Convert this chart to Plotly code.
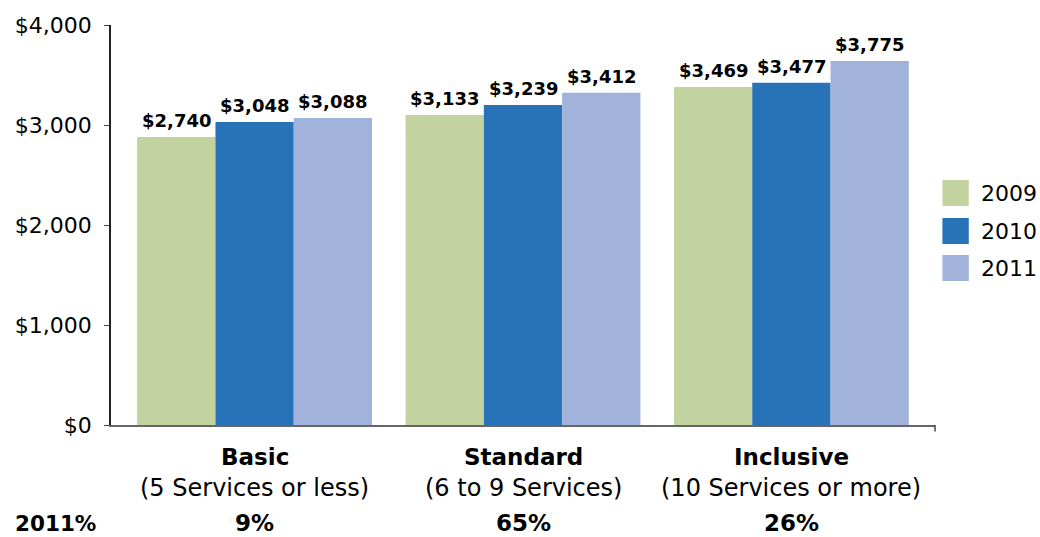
import plotly.graph_objects as go

# categories and values
tiers = ['Basic', 'Standard', 'Inclusive']
tier_notes = ['(5 Services or less)', '(6 to 9 Services)', '(10 Services or more)']
share_2011 = ['9%', '65%', '26%']
years = ['2009', '2010', '2011']

# drawn bar heights (as they appear against the axis)
heights_2009 = [2880, 3100, 3380]
heights_2010 = [3030, 3200, 3423]
heights_2011 = [3070, 3323, 3640]

# printed value labels
labels_2009 = ['$2,740', '$3,133', '$3,469']
labels_2010 = ['$3,048', '$3,239', '$3,477']
labels_2011 = ['$3,088', '$3,412', '$3,775']

colors = ['#C3D3A0', '#2873B8', '#A1B3DA']
FONT = 'DejaVu Sans'
BARGAP = 0.125

series = [
    (heights_2009, labels_2009),
    (heights_2010, labels_2010),
    (heights_2011, labels_2011),
]

fig = go.Figure()
annotations = []
bar_w = (1 - BARGAP) / len(series)
for j, (year, (h, lab), col) in enumerate(zip(years, series, colors)):
    fig.add_trace(go.Bar(
        x=tiers, y=h, name=year, marker=dict(color=col, line=dict(width=0)),
        showlegend=False, hoverinfo='x+y+name',
    ))
    # value labels sit a little above each bar
    off = (j - (len(series) - 1) / 2) * bar_w
    for i, (v, s) in enumerate(zip(h, lab)):
        annotations.append(dict(
            x=i + off, xref='x', y=v, yref='y', yanchor='bottom', yshift=4,
            text='<b>' + s + '</b>', showarrow=False,
            font=dict(family=FONT, size=18, color='black'),
        ))

# category captions under the axis
for t, note, s in zip(tiers, tier_notes, share_2011):
    for txt, dy, size in [('<b>' + t + '</b>', -32, 23),
                          (note, -63, 24),
                          ('<b>' + s + '</b>', -98, 23)]:
        annotations.append(dict(
            x=t, xref='x', y=0, yref='paper', yanchor='middle', yshift=dy,
            text=txt, showarrow=False,
            font=dict(family=FONT, size=size, color='black'),
        ))
annotations.append(dict(
    x=-0.119, xref='paper', y=0, yref='paper', yanchor='middle', yshift=-98,
    xanchor='left', text='<b>2011%</b>', showarrow=False,
    font=dict(family=FONT, size=21.5, color='black'),
))

# legend drawn by hand so the keys can be as large as in the original
shapes = []
row_y = [0.58, 0.485, 0.3925]
for year, col, yy in zip(years, colors, row_y):
    shapes.append(dict(type='rect', xref='paper', yref='paper',
                       x0=1.009, x1=1.041, y0=yy - 0.0325, y1=yy + 0.0325,
                       fillcolor=col, line=dict(width=0)))
    annotations.append(dict(x=1.054, xref='paper', y=yy, yref='paper',
                            xanchor='left', yanchor='middle', text=year,
                            showarrow=False,
                            font=dict(family=FONT, size=22, color='black')))

# small closing tick at the right end of the category axis
shapes.append(dict(type='line', xref='paper', yref='paper', x0=1, x1=1,
                   y0=0, y1=-0.016, line=dict(color='#444444', width=1.5)))

fig.update_layout(
    width=1040, height=537,
    margin=dict(l=111, r=105, t=25, b=112),
    paper_bgcolor='white', plot_bgcolor='white',
    barmode='group', bargap=BARGAP, bargroupgap=0,
    font=dict(family=FONT, color='black'),
    annotations=annotations, shapes=shapes,
    showlegend=False,
)
fig.update_xaxes(range=[-0.535, 2.535], showline=True, linecolor='#666666',
                 linewidth=2, showticklabels=False, ticks='', showgrid=False)
fig.update_yaxes(range=[0, 4000], dtick=1000, tickprefix='$', tickformat=',',
                 showline=True, linecolor='#222222', linewidth=1.5,
                 ticks='outside', ticklen=5, tickcolor='#444444',
                 ticklabelstandoff=8,
                 showgrid=False, zeroline=False,
                 tickfont=dict(family=FONT, size=22, color='black'))

fig.write_html('out.html', config={'displayModeBar': False},
               post_script="document.body.style.margin='0';")
